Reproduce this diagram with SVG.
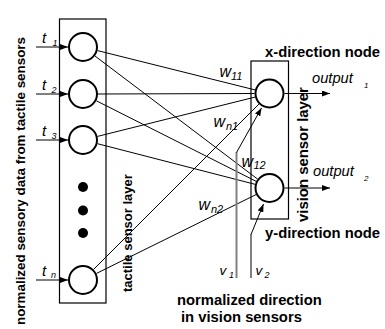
<svg xmlns="http://www.w3.org/2000/svg" width="385" height="329" viewBox="0 0 385 329">
<style>
.box{fill:none;stroke:#000;stroke-width:1.2}
.node{fill:#fff;stroke:#000;stroke-width:2}
.ln{stroke:#000;stroke-width:1;fill:none}
.gr{stroke:#808080;stroke-width:2;fill:none}
.b{font-family:"Liberation Sans",Arial,Helvetica,sans-serif;font-weight:bold;fill:#000}
.i{font-family:"Liberation Sans",Arial,Helvetica,sans-serif;font-style:italic;fill:#000}
</style>
<defs>
<marker id="ah" markerUnits="userSpaceOnUse" markerWidth="8" markerHeight="6" refX="8" refY="3" orient="auto">
<path d="M0,0 L8,3 L0,6 z" fill="#000"/>
</marker>
</defs>
<g id="tactile-layer">
<rect class="box" x="59.5" y="19" width="46.5" height="284"/>
<text class="b" font-size="13" transform="translate(132,292) rotate(-90)">tactile sensor layer</text>
</g>
<g id="vision-layer">
<rect class="box" x="251" y="61" width="37.5" height="158"/>
<text class="b" font-size="14.9" transform="translate(308,222) rotate(-90)">vision sensor layer</text>
</g>
<g id="connectors">
<line class="ln" x1="36" y1="47" x2="68" y2="47" marker-end="url(#ah)"/>
<line class="ln" x1="36" y1="94" x2="68" y2="94" marker-end="url(#ah)"/>
<line class="ln" x1="36" y1="140" x2="68" y2="140" marker-end="url(#ah)"/>
<line class="ln" x1="36" y1="280" x2="68" y2="280" marker-end="url(#ah)"/>
<line class="ln" x1="97.5" y1="50.6" x2="255" y2="89.9"/>
<line class="ln" x1="95" y1="56" x2="257.5" y2="179"/>
<line class="ln" x1="98" y1="94" x2="254.5" y2="93.5"/>
<line class="ln" x1="96.4" y1="100.8" x2="256.1" y2="181.3"/>
<line class="ln" x1="97.5" y1="136.4" x2="255" y2="97.1"/>
<line class="ln" x1="97.5" y1="143.7" x2="255" y2="184.3"/>
<line class="ln" x1="93.6" y1="269.4" x2="258.9" y2="104.1"/>
<line class="ln" x1="96.5" y1="273.4" x2="256" y2="194.6"/>
<line class="ln" x1="284.5" y1="93.5" x2="330" y2="93.5" marker-end="url(#ah)"/>
<line class="ln" x1="284.5" y1="188" x2="330" y2="188" marker-end="url(#ah)"/>
<line class="gr" x1="236.5" y1="278" x2="236.5" y2="152"/>
<line class="ln" x1="236.5" y1="152.5" x2="261.5" y2="108" marker-end="url(#ah)"/>
<line class="gr" x1="251" y1="278" x2="251" y2="234"/>
<line class="ln" x1="251" y1="234.5" x2="263.5" y2="204" marker-end="url(#ah)"/>
</g>
<g id="t1"><circle class="node" cx="83" cy="47" r="14"/></g>
<g id="t2"><circle class="node" cx="83" cy="94" r="14"/></g>
<g id="t3"><circle class="node" cx="83" cy="140" r="14"/></g>
<g id="dots">
<circle cx="83" cy="187" r="5" fill="#000"/>
<circle cx="83" cy="210.5" r="5" fill="#000"/>
<circle cx="83" cy="233" r="5" fill="#000"/>
</g>
<g id="tn"><circle class="node" cx="83" cy="280" r="14"/></g>
<g id="x-node"><circle class="node" cx="269.5" cy="93.5" r="14"/>
<text class="b" font-size="14.8" x="265" y="57">x-direction node</text></g>
<g id="y-node"><circle class="node" cx="269.5" cy="188" r="14"/>
<text class="b" font-size="14.8" x="265" y="237.5">y-direction node</text></g>
<g id="labels">
<text class="b" font-size="13.4" transform="translate(25,325) rotate(-90)">normalized sensory data from tactile sensors</text>
<text class="i" font-size="15" x="42" y="43">t</text><text class="i" font-size="9" x="52.5" y="45.5">1</text>
<text class="i" font-size="15" x="42" y="90">t</text><text class="i" font-size="9" x="51.5" y="92.5">2</text>
<text class="i" font-size="15" x="42" y="136">t</text><text class="i" font-size="9" x="51.5" y="138.5">3</text>
<text class="i" font-size="15" x="42" y="276">t</text><text class="i" font-size="9" x="51" y="278">n</text>
<text class="i" font-size="16" x="219.5" y="77">w</text><text class="i" font-size="11" x="231" y="80">11</text>
<text class="i" font-size="16" x="213.5" y="127">w</text><text class="i" font-size="11" x="226" y="130">n1</text>
<text class="i" font-size="16" x="241.5" y="166.5">w</text><text class="i" font-size="11" x="253.5" y="168.5">12</text>
<text class="i" font-size="16" x="198.5" y="210">w</text><text class="i" font-size="11" x="211" y="213">n2</text>
<text class="i" font-size="14.7" x="312" y="83">output</text><text class="i" font-size="8" x="364" y="88">1</text>
<text class="i" font-size="14.7" x="313" y="176">output</text><text class="i" font-size="8" x="364" y="181">2</text>
<text class="i" font-size="13.5" x="219.5" y="275">v</text><text class="i" font-size="9" x="229" y="278">1</text>
<text class="i" font-size="13.5" x="255.5" y="275">v</text><text class="i" font-size="9" x="264.5" y="278">2</text>
<text class="b" font-size="14.8" x="177" y="305">normalized direction</text>
<text class="b" font-size="14.8" x="181" y="321.7">in vision sensors</text>
</g>
</svg>
